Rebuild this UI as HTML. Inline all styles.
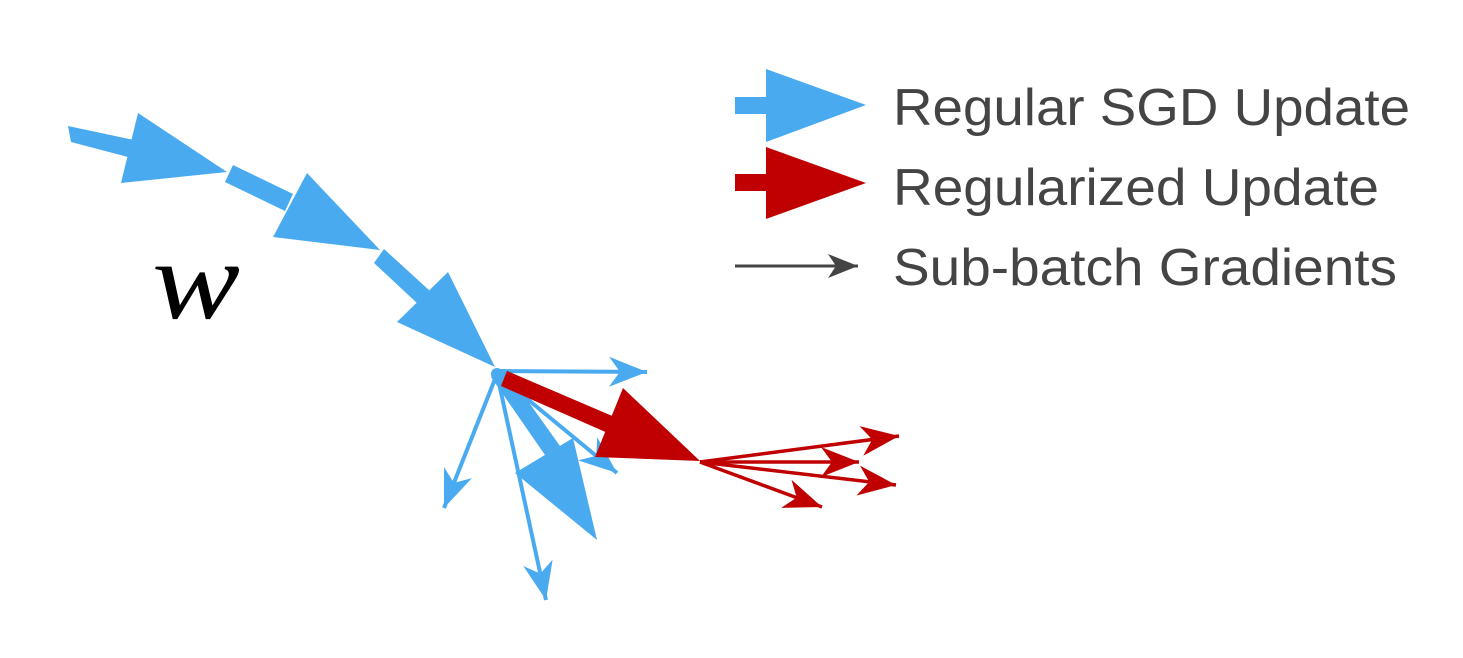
<!DOCTYPE html>
<html><head><meta charset="utf-8"><style>
html,body{margin:0;padding:0;background:#fff;}
svg{display:block;}
</style></head><body>
<svg width="1463" height="658" viewBox="0 0 1463 658" xmlns="http://www.w3.org/2000/svg">
<defs>
<marker id="hb" markerUnits="userSpaceOnUse" markerWidth="42" markerHeight="32" refX="38" refY="15" orient="auto" viewBox="0 0 42 32">
<path d="M0,0 L38,15 L0,30 L11,15 Z" fill="#4aaaf0"/>
</marker>
<marker id="hr" markerUnits="userSpaceOnUse" markerWidth="42" markerHeight="32" refX="38" refY="15" orient="auto" viewBox="0 0 42 32">
<path d="M0,0 L38,15 L0,30 L11,15 Z" fill="#c00000"/>
</marker>
<marker id="hk" markerUnits="userSpaceOnUse" markerWidth="40" markerHeight="30" refX="30" refY="12" orient="auto" viewBox="0 0 40 30">
<path d="M0,0 L30,12 L0,24 L8,12 Z" fill="#444"/>
</marker>
</defs>
<g fill="#4aaaf0" stroke="none">
<polygon points="68,126 71,142 132,158 134,140"/>
<polygon points="138,113 121,183 227,172"/>
<polygon points="233,165 225,182 285,211 293,194"/>
<polygon points="307,173 273,237 380,250"/>
<polygon points="384,249 374,263 418,304 430,291"/>
<polygon points="448,272 397,322 495,367"/>
</g>
<g stroke="#4aaaf0" stroke-width="4" fill="none">
<line x1="497" y1="371" x2="647" y2="372" marker-end="url(#hb)"/>
<line x1="497" y1="374" x2="444" y2="508" marker-end="url(#hb)"/>
<line x1="497" y1="374" x2="546" y2="600" marker-end="url(#hb)"/>
<line x1="497" y1="374" x2="617" y2="473" marker-end="url(#hb)"/>
</g>
<g fill="#4aaaf0">
<polygon points="491,377 505,369 560,446 545,455"/>
<polygon points="573,438 515,473 597,540"/>
<circle cx="497" cy="374" r="6"/>
</g>
<g fill="#c00000">
<polygon points="507,371 501,386 610,434 617,418"/>
<polygon points="623,388 595,457 700,461"/>
</g>
<g stroke="#c00000" stroke-width="3.5" fill="none">
<line x1="700" y1="462" x2="899" y2="436" marker-end="url(#hr)"/>
<line x1="700" y1="462" x2="859" y2="462" marker-end="url(#hr)"/>
<line x1="700" y1="462" x2="896" y2="485" marker-end="url(#hr)"/>
<line x1="700" y1="462" x2="822" y2="507" marker-end="url(#hr)"/>
</g>
<text x="152" y="318" font-family="Liberation Serif, serif" font-style="italic" font-size="112" fill="#000" textLength="88" lengthAdjust="spacingAndGlyphs">w</text>
<polygon points="735,97 735,114 770,114 770,97" fill="#4aaaf0"/>
<polygon points="766,69 766,142 866,105" fill="#4aaaf0"/>
<polygon points="735,174 735,191 770,191 770,174" fill="#c00000"/>
<polygon points="766,147 766,219 866,183" fill="#c00000"/>
<line x1="735" y1="266" x2="858" y2="266" stroke="#444" stroke-width="3" marker-end="url(#hk)"/>
<g font-family="Liberation Sans, sans-serif" font-size="52" fill="#444">
<text x="893" y="125" textLength="517" lengthAdjust="spacingAndGlyphs">Regular SGD Update</text>
<text x="893" y="205" textLength="486" lengthAdjust="spacingAndGlyphs">Regularized Update</text>
<text x="893" y="285" textLength="504" lengthAdjust="spacingAndGlyphs">Sub-batch Gradients</text>
</g>
</svg>
</body></html>
